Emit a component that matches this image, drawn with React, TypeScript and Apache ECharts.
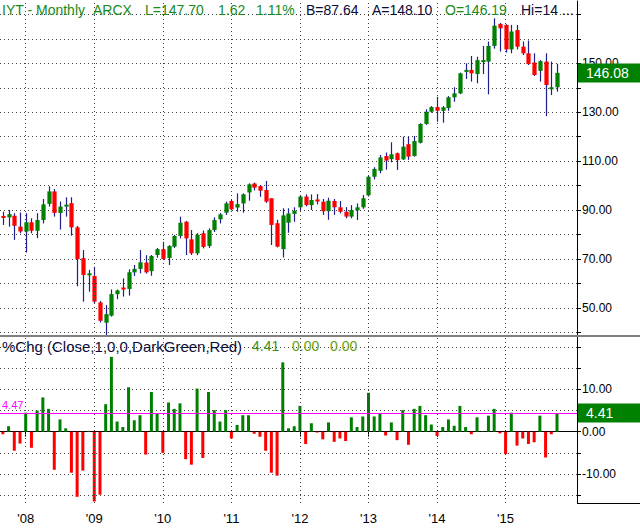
import React, { useEffect, useRef } from 'react';
import * as echarts from 'echarts';

// ---------- categories ----------
const months = [
  '2007-09', '2007-10', '2007-11', '2007-12',
  '2008-01', '2008-02', '2008-03', '2008-04', '2008-05', '2008-06', '2008-07', '2008-08', '2008-09', '2008-10', '2008-11', '2008-12',
  '2009-01', '2009-02', '2009-03', '2009-04', '2009-05', '2009-06', '2009-07', '2009-08', '2009-09', '2009-10', '2009-11', '2009-12',
  '2010-01', '2010-02', '2010-03', '2010-04', '2010-05', '2010-06', '2010-07', '2010-08', '2010-09', '2010-10', '2010-11', '2010-12',
  '2011-01', '2011-02', '2011-03', '2011-04', '2011-05', '2011-06', '2011-07', '2011-08', '2011-09', '2011-10', '2011-11', '2011-12',
  '2012-01', '2012-02', '2012-03', '2012-04', '2012-05', '2012-06', '2012-07', '2012-08', '2012-09', '2012-10', '2012-11', '2012-12',
  '2013-01', '2013-02', '2013-03', '2013-04', '2013-05', '2013-06', '2013-07', '2013-08', '2013-09', '2013-10', '2013-11', '2013-12',
  '2014-01', '2014-02', '2014-03', '2014-04', '2014-05', '2014-06', '2014-07', '2014-08', '2014-09', '2014-10', '2014-11', '2014-12',
  '2015-01', '2015-02', '2015-03', '2015-04', '2015-05', '2015-06', '2015-07', '2015-08', '2015-09', '2015-10',
];
const emptyMonths = ['2015-11', '2015-12', '2016-01'];
const yearTicks = ['2008-01', '2009-01', '2010-01', '2011-01', '2012-01', '2013-01', '2014-01', '2015-01'];

// ---------- price series (monthly OHLC) ----------
const opens = [
  87.5, 87.0, 87.6, 83.2,
  81.2, 85.0, 81.5, 85.9, 92.5, 97.6, 88.8, 91.4, 92.8, 82.9, 70.3, 63.6,
  63.0, 52.2, 43.9, 46.8, 55.6, 58.3, 57.7, 64.5, 65.9, 68.5, 65.0, 71.6,
  74.0, 70.4, 75.0, 79.4, 85.2, 78.0, 72.3, 80.5, 75.3, 81.8, 86.2, 88.9,
  93.7, 91.0, 92.7, 97.2, 100.8, 99.8, 98.2, 94.8, 84.6, 74.0, 84.8, 88.4,
  91.1, 95.5, 92.0, 94.3, 93.4, 89.5, 93.7, 91.1, 89.3, 87.3, 89.9, 91.1,
  96.0, 103.6, 106.0, 112.1, 110.8, 113.2, 110.7, 116.9, 112.1, 117.5, 125.2, 130.2,
  132.1, 130.6, 131.7, 136.1, 137.7, 146.6, 147.3, 145.6, 151.1, 150.7, 157.1, 166.1,
  165.7, 155.7, 163.6, 156.8, 154.1, 150.3, 146.9, 150.7, 140.0, 140.2,
];
const highs = [
  89.3, 90.0, 88.7, 89.0,
  88.7, 86.6, 88.7, 94.5, 99.7, 98.6, 93.5, 95.2, 95.2, 83.5, 73.6, 65.5,
  66.8, 52.8, 51.1, 57.5, 57.5, 62.0, 65.7, 67.5, 73.6, 71.5, 71.6, 74.5,
  77.0, 75.6, 79.8, 87.3, 85.5, 81.8, 80.5, 81.6, 82.5, 87.0, 88.8, 93.4,
  94.1, 96.8, 96.8, 100.9, 101.2, 100.2, 101.9, 94.8, 86.0, 90.7, 90.7, 91.1,
  96.1, 96.4, 96.4, 96.5, 94.5, 95.0, 94.5, 93.7, 91.2, 92.0, 92.7, 96.1,
  104.0, 107.5, 112.5, 113.5, 117.7, 113.5, 120.0, 120.0, 120.3, 125.5, 131.2, 132.5,
  136.3, 132.5, 136.6, 140.2, 146.2, 150.0, 153.0, 152.7, 157.1, 158.9, 168.4, 166.5,
  166.0, 165.7, 165.7, 158.9, 159.3, 154.1, 151.3, 154.1, 150.7, 149.8,
];
const lows = [
  83.9, 83.2, 77.8, 80.5,
  72.6, 80.5, 78.5, 84.5, 91.4, 87.3, 82.0, 87.3, 79.5, 58.8, 52.5, 56.6,
  51.8, 44.0, 38.6, 46.4, 53.5, 54.6, 55.0, 63.0, 64.1, 64.0, 63.1, 70.5,
  69.5, 67.5, 74.5, 78.4, 71.6, 71.6, 71.5, 74.3, 74.5, 81.0, 84.5, 88.0,
  89.9, 89.3, 88.9, 93.8, 98.0, 95.4, 92.9, 75.7, 74.7, 70.6, 80.7, 85.2,
  90.0, 91.5, 90.0, 92.3, 88.0, 86.0, 88.0, 88.6, 86.6, 86.6, 85.9, 90.5,
  95.5, 102.5, 105.0, 106.5, 109.5, 106.4, 110.5, 110.5, 111.8, 117.2, 124.8, 129.8,
  126.1, 125.7, 130.6, 134.3, 137.4, 143.6, 142.5, 141.8, 145.6, 137.3, 156.0, 154.8,
  154.4, 154.1, 155.7, 153.4, 149.3, 144.8, 142.5, 128.4, 137.0, 138.4,
];
const closes = [
  87.3, 88.3, 83.6, 81.2,
  85.0, 81.5, 85.9, 92.3, 97.6, 88.8, 91.4, 92.2, 82.9, 69.9, 63.4, 64.1,
  52.5, 44.7, 47.4, 55.6, 57.1, 57.8, 64.5, 65.9, 68.6, 64.5, 71.2, 74.0,
  70.0, 75.3, 79.4, 84.8, 78.4, 72.3, 79.9, 74.9, 81.8, 85.9, 88.2, 92.7,
  90.3, 92.4, 96.4, 100.5, 99.1, 97.9, 93.4, 83.9, 75.0, 87.8, 88.6, 89.7,
  95.5, 92.0, 94.1, 94.0, 89.5, 93.8, 91.1, 89.3, 87.3, 90.0, 91.1, 94.8,
  103.6, 106.8, 111.5, 110.2, 112.8, 110.4, 115.9, 111.8, 118.2, 125.2, 130.2, 132.1,
  130.6, 132.0, 136.1, 137.7, 145.9, 147.3, 145.9, 151.3, 151.3, 157.1, 165.4, 164.3,
  155.7, 163.0, 156.8, 154.1, 149.7, 145.2, 150.9, 141.1, 140.2, 146.08,
];

// ---------- %Chg (Close) series ----------
const pctChg = [
  -0.6, 1.3, -4.5, -2.8,
  4.5, -3.8, 5.0, 8.1, 5.4, -9.0, 2.9, 0.8, -9.7, -15.4, -9.2, 0.2,
  -16.5, -14.9, 6.5, 17.7, 2.4, 1.1, 10.5, 2.7, 3.9, -5.4, 9.4, 4.2,
  -5.0, 6.9, 5.4, 6.7, -6.5, -7.8, 10.2, -6.2, 9.4, 5.1, 2.4, 5.1,
  -1.6, 1.6, 3.9, 3.9, -0.5, -1.2, -4.5, -9.7, -10.4, 16.4, 0.8, 1.3,
  6.1, -2.9, 2.0, -0.2, -1.8, 2.2, -2.4, -1.6, -2.2, 3.4, 1.1, 3.6,
  9.2, 3.6, 4.2, -0.9, 2.2, -2.0, 5.1, -3.1, 5.4, 6.1, 3.9, 1.7,
  -1.0, 1.1, 2.9, 1.4, 6.1, 1.1, -0.6, 3.4, 0.1, 3.8, 5.4, -0.4,
  -5.3, 4.5, -3.3, -1.6, -2.9, -2.5, 3.8, -6.1, -0.6, 4.41,
];

// ---------- tick labels / reference values ----------
const priceLabels = [50, 70, 90, 110, 130, 150];
const pctLabels = [-10, 0, 10];
const refLevel = 4.47;
const lastCloseText = '146.08';
const lastPctText = '4.41';

const headerTop = [
  { text: 'IYT - Monthly', x: 2, color: '#1a8a1a' },
  { text: 'ARCX', x: 93, color: '#1a8a1a' },
  { text: 'L=147.70', x: 145, color: '#1a8a1a' },
  { text: '1.62', x: 218, color: '#1a8a1a' },
  { text: '1.11%', x: 256, color: '#1a8a1a' },
  { text: 'B=87.64', x: 306, color: '#0a0a3a' },
  { text: 'A=148.10', x: 372, color: '#0a0a3a' },
  { text: 'O=146.19', x: 445, color: '#1a8a1a' },
  { text: 'Hi=14 ...', x: 521, color: '#0a0a3a' },
];
const headerBottom = [
  { text: '%Chg (Close,1,0,0,DarkGreen,Red)', x: 2, color: '#0a0a3a', size: 15 },
  { text: '4.41', x: 252, color: '#3f8f14', size: 14 },
  { text: '0.00', x: 292, color: '#6b9e0a', size: 14 },
  { text: '0.00', x: 330, color: '#6b9e0a', size: 14 },
];

const FONT = '"Liberation Sans", Arial, sans-serif';
const GREEN = '#008000';
const RED = '#ff0000';
const WICK = '#1f1f8f';
const DOTS = { type: [1, 3] as any, color: '#404040', width: 1 };

const PLOT_W = 577;

export default function App() {
  const ref = useRef<HTMLDivElement>(null);

  useEffect(() => {
    if (!ref.current) return;
    const chart = echarts.init(ref.current, undefined, { renderer: 'svg' });
    const cats = [...months, ...emptyMonths];
    const candleData = months.map((m, i) => [i, opens[i], closes[i], lows[i], highs[i]]);
    const isYear = (_i: number, v: string) => yearTicks.indexOf(v) >= 0;
    const yearLines = yearTicks.map((v) => ({ xAxis: v }));

    const option: any = {
      animation: false,
      backgroundColor: '#ffffff',
      textStyle: { fontFamily: FONT },
      grid: [
        { left: 0, top: 1, width: PLOT_W, height: 335 },
        { left: 0, top: 337, width: PLOT_W, height: 166 },
      ],
      xAxis: [
        {
          type: 'category', gridIndex: 0, data: cats, boundaryGap: true,
          axisLine: { show: false }, axisTick: { show: false }, axisLabel: { show: false }, splitLine: { show: false },
        },
        {
          type: 'category', gridIndex: 1, data: cats, boundaryGap: true,
          axisLine: { show: true, lineStyle: { color: '#000', width: 1 } },
          axisTick: { show: true, alignWithLabel: true, interval: isYear, length: 5, lineStyle: { color: '#000' } },
          axisLabel: {
            interval: isYear, formatter: (v: string) => "'" + v.slice(2, 4),
            color: '#000', fontSize: 13, fontFamily: FONT, margin: 9,
          },
          splitLine: { show: false },
        },
      ],
      yAxis: [
        {
          type: 'value', gridIndex: 0, position: 'right', min: 38.47, max: 175.48, splitNumber: 14, scale: true,
          axisLine: { show: true, lineStyle: { color: '#000' } },
          axisTick: { show: true, length: 4, lineStyle: { color: '#000' } },
          axisLabel: {
            showMinLabel: false, showMaxLabel: false, margin: 5, color: '#000', fontSize: 12, fontFamily: FONT,
            formatter: (v: number) => (priceLabels.some((p) => Math.abs(p - v) < 1e-6) ? v.toFixed(2) : ''),
          },
          splitLine: { show: true, showMinLine: false, showMaxLine: false, lineStyle: DOTS },
        },
        {
          type: 'value', gridIndex: 1, position: 'right', min: -16.86, max: 22.39, splitNumber: 8, scale: true,
          axisLine: { show: true, lineStyle: { color: '#000' } },
          axisTick: { show: true, length: 4, lineStyle: { color: '#000' } },
          axisLabel: {
            showMinLabel: false, showMaxLabel: false, margin: 5, color: '#000', fontSize: 12, fontFamily: FONT,
            formatter: (v: number) => (pctLabels.some((p) => Math.abs(p - v) < 1e-6) ? v.toFixed(2) : ''),
          },
          splitLine: { show: true, showMinLine: false, showMaxLine: false, lineStyle: DOTS },
        },
      ],
      series: [
        {
          type: 'custom', xAxisIndex: 0, yAxisIndex: 0, data: candleData,
          encode: { x: 0, y: [1, 2, 3, 4] }, clip: true,
          renderItem: (_params: any, api: any) => {
            const idx = api.value(0);
            const o = api.value(1), c = api.value(2), l = api.value(3), h = api.value(4);
            const pO = api.coord([idx, o]);
            const pC = api.coord([idx, c]);
            const pL = api.coord([idx, l]);
            const pH = api.coord([idx, h]);
            const band = api.size([1, 0])[0];
            const w = band * 0.74;
            const xc = Math.round(pO[0]) + 0.5;
            const top = Math.min(pO[1], pC[1]);
            const bh = Math.max(Math.abs(pO[1] - pC[1]), 2);
            return {
              type: 'group',
              children: [
                { type: 'line', shape: { x1: xc, y1: pH[1], x2: xc, y2: pL[1] }, style: { stroke: WICK, lineWidth: 1.2 } },
                { type: 'rect', shape: { x: xc - w / 2, y: top, width: w, height: bh }, style: { fill: c >= o ? GREEN : RED } },
              ],
            };
          },
          markLine: {
            silent: true, symbol: 'none', animation: false,
            label: { show: false },
            lineStyle: DOTS,
            data: yearLines,
          },
        },
        {
          type: 'bar', xAxisIndex: 1, yAxisIndex: 1, barWidth: 3,
          data: pctChg.map((v) => ({ value: v, itemStyle: { color: v >= 0 ? GREEN : RED } })),
          markLine: {
            silent: true, symbol: 'none', animation: false,
            label: { show: false },
            lineStyle: DOTS,
            data: [
              ...yearLines,
              {
                yAxis: refLevel,
                lineStyle: { type: 'solid', color: '#ff00ff', width: 1.2 },
                label: {
                  show: true, position: 'insideStartTop', formatter: refLevel.toFixed(2), distance: 2,
                  color: '#ff00ff', fontSize: 11, fontFamily: FONT,
                },
              },
            ],
          },
        },
      ],
    };

    chart.setOption(option);

    const yClose = chart.convertToPixel({ yAxisIndex: 0 } as any, closes[closes.length - 1]) as number;
    const yPct = chart.convertToPixel({ yAxisIndex: 1 } as any, pctChg[pctChg.length - 1]) as number;
    const badge = (y: number, text: string) => [
      { type: 'rect', shape: { x: PLOT_W + 1, y: y - 9.5, width: 640 - PLOT_W - 1, height: 19 }, style: { fill: GREEN }, z: 80 },
      {
        type: 'text', x: PLOT_W + 9, y: y, z: 81,
        style: { text, fill: '#ffffff', font: `14px ${FONT}`, textVerticalAlign: 'middle' },
      },
    ];

    chart.setOption({
      graphic: [
        { type: 'rect', shape: { x: 0, y: 335, width: 640, height: 2 }, style: { fill: '#808080' }, z: 50 },
        { type: 'line', shape: { x1: PLOT_W, y1: 503.5, x2: 640, y2: 503.5 }, style: { stroke: '#000', lineWidth: 1 }, z: 50 },
        ...headerTop.map((t) => ({
          type: 'text', x: t.x, y: 10, z: 60,
          style: { text: t.text, fill: t.color, font: `14px ${FONT}`, textVerticalAlign: 'middle' },
        })),
        ...headerBottom.map((t) => ({
          type: 'text', x: t.x, y: 346, z: 60,
          style: { text: t.text, fill: t.color, font: `${t.size}px ${FONT}`, textVerticalAlign: 'middle' },
        })),
        ...badge(yClose, lastCloseText),
        ...badge(yPct, lastPctText),
      ],
    });

    return () => chart.dispose();
  }, []);

  return <div ref={ref} style={{ position: 'absolute', left: 0, top: 0, width: 640, height: 531 }} />;
}
